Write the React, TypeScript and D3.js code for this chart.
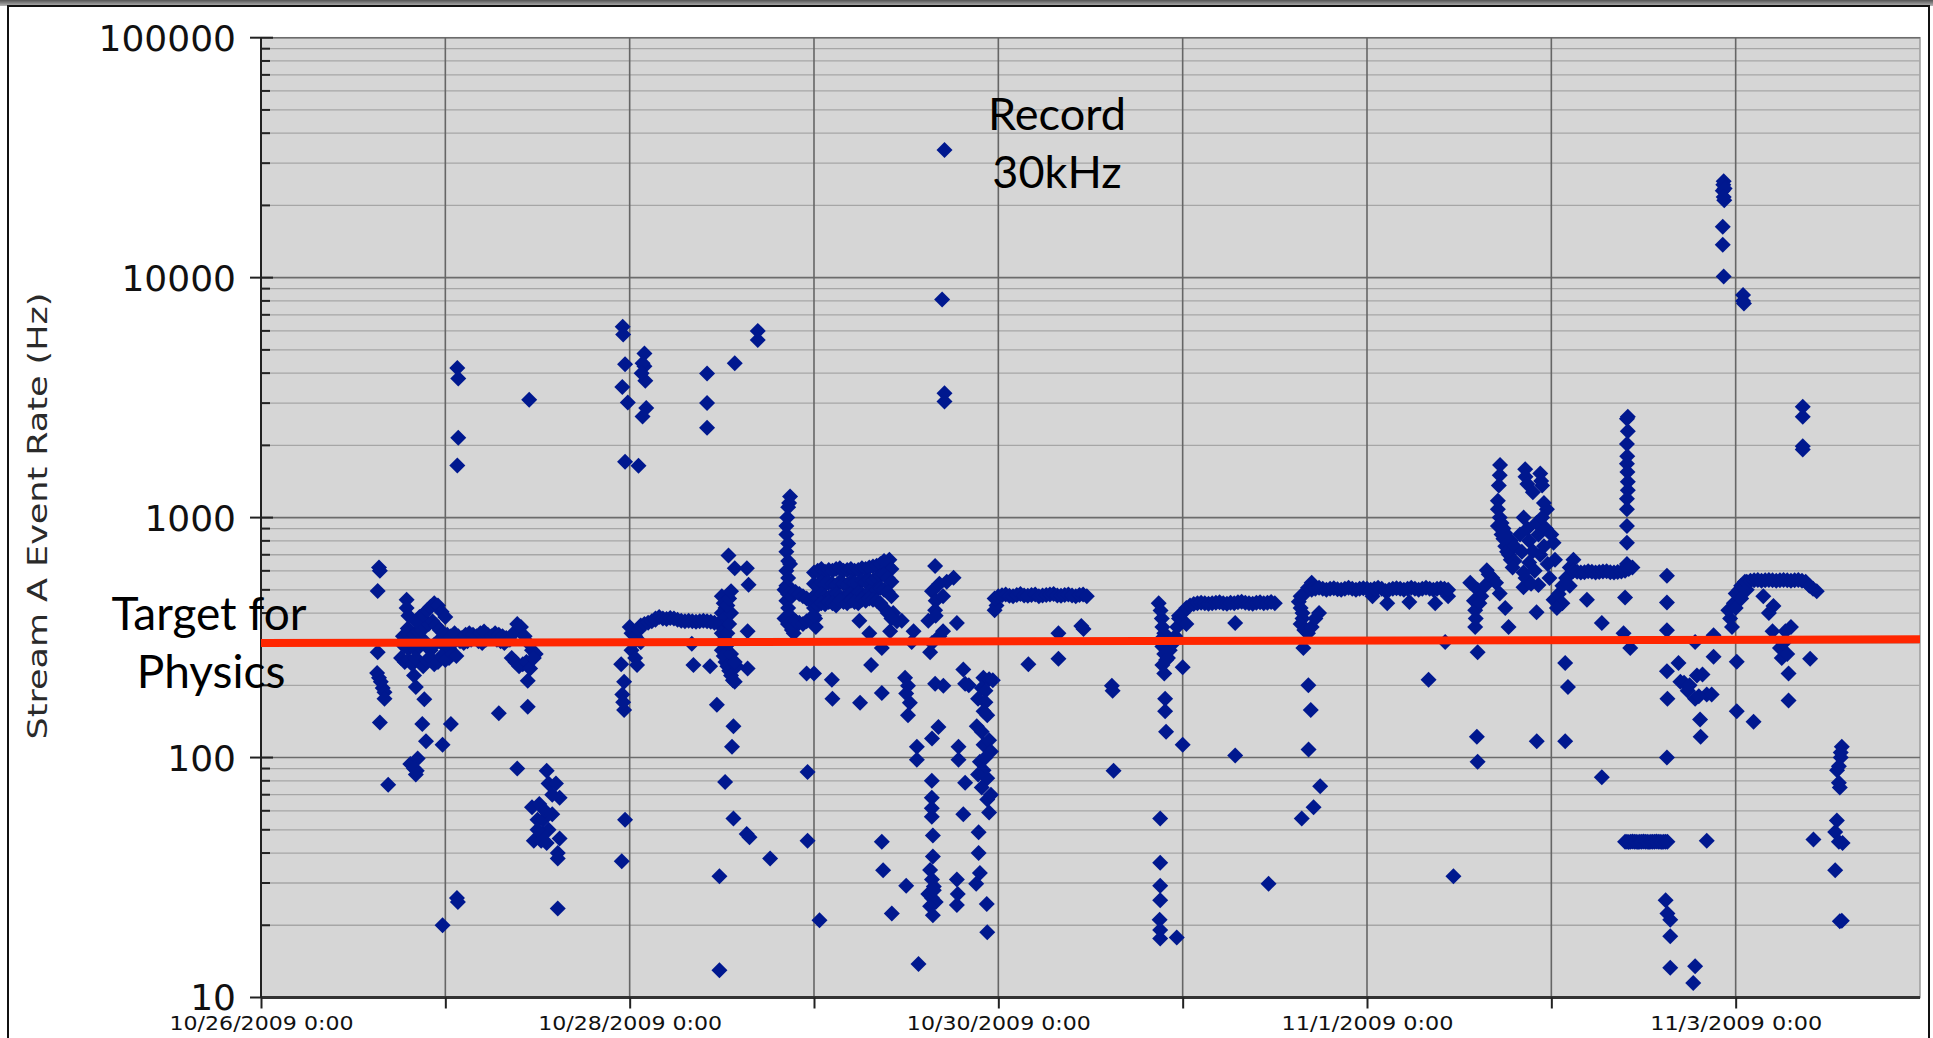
import React, { useEffect, useRef } from 'react';
import * as d3 from 'd3';

// time is in days after 10/26/2009 0:00, rates in Hz
const startDate = Date.UTC(2009, 9, 26);
const endDate = Date.UTC(2009, 10, 4);
const dayLabels = ['10/26/2009 0:00', '', '10/28/2009 0:00', '', '10/30/2009 0:00', '', '11/1/2009 0:00', '', '11/3/2009 0:00'];
const yLabels = [10, 100, 1000, 10000, 100000];
const targetRate = [300, 311]; // red line, left end / right end

const scatterOct26 = [
  [0.64, 620], [0.645, 600], [0.633, 495], [0.633, 275], [0.63, 225], [0.64, 215], [0.65, 207], [0.66, 195],
  [0.67, 187], [0.67, 176], [0.645, 140], [0.69, 77], [0.79, 455], [0.79, 420], [0.796, 345], [0.8, 390],
  [0.83, 220], [0.84, 197], [0.886, 175], [0.875, 138], [0.895, 117], [0.81, 94], [0.84, 85], [0.85, 99],
  [0.83, 90], [0.845, 88], [0.985, 113], [1.03, 138], [1.063, 26], [1.068, 25], [0.985, 20],
];
const scatterOct27 = [
  [1.065, 4200], [1.07, 3800], [1.07, 2150], [1.065, 1650], [1.455, 3100],
  [1.447, 209], [1.447, 163], [1.29, 153], [1.39, 90], [1.47, 62], [1.5, 55], [1.48, 45],
  [1.55, 88], [1.56, 78], [1.6, 78], [1.62, 68], [1.51, 64], [1.53, 55], [1.56, 50], [1.52, 45],
  [1.55, 44], [1.62, 46], [1.61, 40], [1.61, 38], [1.61, 23.5], [1.54, 60], [1.58, 58], [1.53, 48],
  [1.58, 70], [1.5, 50],
];
const scatterOct28 = [
  [1.962, 6250], [1.965, 5800], [1.975, 4360], [1.96, 3500], [1.99, 3020], [2.08, 4830], [2.08, 4270],
  [2.085, 3720], [2.09, 2860], [2.07, 2640], [1.975, 1710], [2.048, 1645], [2.07, 4400], [2.065, 4000],
  [1.975, 55], [1.957, 37], [1.97, 158], [1.96, 183], [1.97, 207], [1.954, 245], [1.965, 170],
  [2.0, 350], [2.01, 330], [2.02, 300], [2.01, 280], [2.03, 260], [2.04, 243], [2.03, 320], [2.06, 302],
  [2.05, 340], [2.337, 298], [2.346, 243], [2.436, 240],
  [2.5, 470], [2.51, 440], [2.52, 420], [2.5, 400], [2.51, 380], [2.5, 350], [2.5, 330], [2.51, 310],
  [2.52, 290], [2.5, 280], [2.51, 265], [2.52, 250], [2.53, 240], [2.54, 230], [2.55, 220], [2.56, 210],
  [2.57, 207], [2.55, 270], [2.54, 300], [2.53, 330], [2.54, 360], [2.55, 400], [2.53, 430], [2.54, 460],
  [2.55, 493], [2.536, 695], [2.57, 615], [2.636, 615], [2.645, 525], [2.64, 336], [2.64, 235],
  [2.58, 240], [2.57, 250],
  [2.473, 166], [2.563, 135], [2.555, 111], [2.518, 79], [2.563, 55.7], [2.635, 48], [2.65, 46.5],
  [2.487, 32], [2.487, 13], [2.762, 38],
  [2.42, 3990], [2.42, 3000], [2.42, 2370], [2.57, 4400], [2.695, 6000], [2.695, 5500],
];
const scatterOct29 = [
  [2.87, 1225], [2.865, 1150], [2.86, 1105], [2.855, 1000], [2.85, 923], [2.85, 850], [2.86, 780],
  [2.85, 720], [2.86, 660], [2.85, 600], [2.86, 560], [2.85, 520], [2.86, 480], [2.85, 450], [2.86, 420],
  [2.87, 390], [2.86, 360], [2.88, 340], [2.89, 330], [2.88, 500], [2.87, 640], [2.96, 224], [2.965, 87],
  [2.965, 45], [3.03, 21],
  [3.006, 380], [3.01, 350], [3.0, 224], [3.097, 211], [3.1, 176], [3.25, 169], [3.368, 186], [3.246, 372],
  [3.3, 330], [3.368, 286], [3.31, 243], [3.413, 336], [3.476, 372], [3.409, 668], [3.43, 400], [3.45, 370],
  [3.657, 628], [3.757, 562], [3.64, 493], [3.66, 450], [3.657, 411], [3.62, 372], [3.775, 364], [3.7, 336],
  [3.54, 336], [3.53, 303], [3.63, 275], [3.64, 300], [3.68, 320], [3.66, 390], [3.7, 470], [3.68, 530],
  [3.72, 540], [3.494, 215], [3.51, 199], [3.52, 169], [3.51, 150], [3.5, 185], [3.657, 203], [3.702, 199],
  [3.81, 233], [3.82, 203], [3.675, 134], [3.64, 120], [3.558, 111], [3.558, 98], [3.784, 111], [3.784, 98],
  [3.82, 78.5], [3.81, 58], [3.639, 80], [3.639, 68], [3.639, 61.5], [3.639, 56.7], [3.645, 47.3],
  [3.645, 38.7], [3.63, 34], [3.64, 31], [3.65, 29], [3.62, 27], [3.64, 26], [3.66, 25], [3.63, 24],
  [3.65, 28], [3.645, 22], [3.775, 31], [3.775, 24.3], [3.78, 27], [3.893, 48.8], [3.893, 40], [3.9, 33],
  [3.88, 29.8], [3.937, 24.5], [3.94, 18.7], [3.368, 44.6], [3.375, 33.9], [3.5, 29.2], [3.422, 22.4],
  [3.567, 13.8], [3.708, 34000], [3.695, 8100], [3.708, 3300], [3.708, 3050],
  [3.919, 215], [3.95, 212], [3.97, 210], [3.91, 195], [3.93, 190], [3.89, 176], [3.93, 170], [3.92, 156],
  [3.94, 150], [3.883, 135], [3.91, 128], [3.92, 113], [3.95, 118], [3.96, 106], [3.9, 96], [3.93, 100],
  [3.92, 88.6], [3.89, 85], [3.94, 82], [3.91, 75], [3.94, 66.8], [3.95, 59], [3.96, 70], [3.84, 200],
];
const scatterOct30 = [
  [3.98, 411], [3.99, 430], [4.163, 245], [4.326, 330], [4.326, 258], [4.462, 343], [4.45, 353],
  [4.616, 199], [4.62, 190], [4.625, 88],
  [4.87, 440], [4.88, 410], [4.887, 380], [4.89, 350], [4.9, 330], [4.88, 310], [4.89, 290], [4.9, 270],
  [4.91, 255], [4.89, 243], [4.9, 224], [4.92, 260], [4.93, 280], [4.95, 300], [4.96, 320], [4.97, 350],
  [4.98, 380], [4.905, 176], [4.905, 156], [4.91, 128], [5.0, 113], [5.0, 238], [4.878, 55.7],
  [4.878, 36.4], [4.878, 29.2], [4.878, 25.4], [4.875, 21.1], [4.878, 19.1], [4.878, 17.6], [4.968, 17.8],
  [4.98, 390], [5.0, 370], [5.02, 360], [5.285, 364], [5.285, 102], [5.466, 29.8],
];
const scatterOct31 = [
  [5.63, 446], [5.64, 420], [5.65, 400], [5.65, 380], [5.64, 360], [5.66, 340], [5.68, 330], [5.7, 350],
  [5.72, 380], [5.74, 400], [5.66, 480], [5.68, 510], [5.7, 535], [5.64, 470], [5.655, 286], [5.682, 200],
  [5.695, 158], [5.683, 108], [5.746, 76], [5.71, 62], [5.646, 55.7],
  [6.11, 440], [6.23, 445], [6.37, 440], [6.03, 470], [6.44, 470], [6.424, 303], [6.334, 211], [6.469, 32],
];
const scatterNov1 = [
  [6.56, 535], [6.65, 603], [6.68, 560], [6.7, 535], [6.72, 483], [6.6, 500], [6.62, 470], [6.58, 450],
  [6.587, 411], [6.587, 350], [6.768, 350], [6.59, 380], [6.6, 275], [6.596, 122], [6.6, 96], [6.61, 440],
  [6.64, 520], [6.66, 580], [6.75, 420],
  [6.722, 1655], [6.72, 1500], [6.715, 1360], [6.71, 1175], [6.71, 1084], [6.72, 1000], [6.71, 922],
  [6.73, 850], [6.74, 817], [6.75, 760], [6.76, 720], [6.78, 668], [6.77, 700], [6.73, 950], [6.74, 900],
  [6.75, 860], [6.78, 800], [6.8, 760], [6.8, 660], [6.79, 620],
  [6.858, 1592], [6.86, 1480], [6.87, 1380], [6.94, 1528], [6.945, 1420], [6.95, 1360], [6.9, 1274],
  [6.976, 1084], [6.96, 1150], [6.85, 1000], [6.87, 900], [6.88, 800], [6.93, 851], [6.92, 950],
  [6.95, 1000], [6.97, 900], [7.0, 850], [7.012, 785], [7.02, 668], [6.849, 591], [6.849, 513], [6.93, 524],
  [6.92, 403], [6.9, 724], [6.88, 650], [6.91, 600], [6.94, 700], [6.96, 760], [6.98, 640], [6.99, 560],
  [6.86, 560], [6.89, 530], [6.921, 117], [6.83, 850], [6.84, 720],
];
const scatterNov2 = [
  [7.075, 248], [7.09, 197], [7.075, 117],
  [7.012, 455], [7.04, 480], [7.06, 520], [7.08, 560], [7.1, 620], [7.12, 668], [7.12, 600], [7.1, 520],
  [7.06, 440], [7.03, 420], [7.193, 455], [7.274, 364], [7.274, 82.8], [7.392, 330], [7.428, 286], [7.4, 464],
  [7.415, 2630], [7.41, 2583], [7.415, 2290], [7.41, 2028], [7.412, 1800], [7.41, 1678], [7.413, 1550],
  [7.415, 1409], [7.415, 1300], [7.41, 1199], [7.41, 1084], [7.41, 922], [7.41, 785], [7.41, 641],
  [7.627, 573], [7.627, 443], [7.627, 339], [7.627, 100], [7.627, 229], [7.63, 176], [7.69, 248], [7.7, 207],
  [7.79, 220], [7.82, 222], [7.78, 176], [7.843, 183], [7.87, 183], [7.807, 144], [7.81, 122], [7.78, 303],
  [7.88, 323], [7.88, 263], [7.72, 205], [7.75, 200], [7.8, 180], [7.74, 190], [7.843, 45],
  [7.62, 25.4], [7.63, 22.4], [7.645, 21.1], [7.645, 18], [7.645, 13.3], [7.78, 13.5], [7.77, 11.5],
];
const scatterNov3 = [
  [7.935, 25200], [7.933, 24400], [7.94, 23500], [7.93, 23000], [7.935, 21700], [7.938, 21000],
  [7.93, 16300], [7.93, 13700], [7.935, 10100], [8.04, 8470], [8.04, 8000], [8.045, 7800],
  [8.006, 251], [8.006, 156], [8.097, 141],
  [7.97, 380], [7.96, 411], [7.99, 440], [8.0, 483], [8.02, 500], [8.03, 520], [8.05, 540], [7.98, 350],
  [8.0, 420], [8.03, 460], [8.06, 500],
  [8.44, 493], [8.42, 505], [8.205, 428], [8.18, 400], [8.15, 470], [8.2, 336], [8.24, 286], [8.287, 224],
  [8.287, 173], [8.27, 336], [8.3, 350], [8.404, 258], [8.26, 300], [8.25, 260], [8.28, 270],
  [8.364, 2900], [8.364, 2630], [8.364, 1985], [8.364, 1920],
  [8.576, 111], [8.57, 100], [8.55, 88.6], [8.56, 78.5], [8.565, 75], [8.549, 54.6], [8.54, 49],
  [8.56, 44.6], [8.58, 44], [8.422, 45.5], [8.54, 33.9], [8.576, 20.9], [8.565, 20.8], [8.56, 92], [8.57, 105],
];

// steady running periods: first sample day, sample step (days), rates
const band1Core = { t0: 0.76, dt: 0.02, hz: [300, 290, 285, 295, 280, 300, 310, 290, 280, 295, 305, 300, 290, 285, 300, 310, 305, 300, 305, 310, 315, 305, 300, 310, 315, 320, 310, 305, 300, 310] };
const band1Mid = { t0: 0.77, dt: 0.02, hz: [320, 330, 310, 325, 335, 340, 350, 360, 370, 355, 340, 330, 325, 320, 330, 320, 315, 325, 330, 325, 320, 330, 335, 325, 320, 330, 325, 320, 315] };
const band1Upper = { t0: 0.84, dt: 0.02, hz: [370, 385, 395, 410, 425, 440, 430, 405, 385] };
const band1Lower = { t0: 0.76, dt: 0.02, hz: [260, 250, 255, 245, 260, 250, 240, 255, 260, 245, 250, 265, 255, 260, 270, 265] };
const band1b = { t0: 1.35, dt: 0.02, hz: [310, 330, 360, 350, 320, 300, 280, 270] };
const band1bLow = { t0: 1.36, dt: 0.02, hz: [260, 250, 240, 245, 250, 235, 260] };
const band2a = { t0: 2.06, dt: 0.02, hz: [355, 360, 365, 370, 375] };
const band2b = { t0: 2.14, dt: 0.02, hz: [380, 385, 380, 378, 382, 380, 375, 372, 370, 372, 370, 368, 370, 372, 370, 368, 365] };
const spike29Top = { t0: 2.84, dt: 0.02, hz: [500, 480, 470, 490, 480, 470, 460, 450, 440] };
const spike29Low = { t0: 2.84, dt: 0.02, hz: [380, 360, 350, 370, 365, 360, 370, 380, 390] };
const band3A = { t0: 3.0, dt: 0.02, hz: [590, 600, 610, 595, 605, 600, 610, 615, 600, 605, 610, 600, 605, 615, 610, 620, 625, 630, 640, 660, 630, 610] };
const band3B = { t0: 3.0, dt: 0.02, hz: [530, 520, 540, 525, 535, 530, 520, 540, 530, 525, 540, 535, 530, 545, 540, 550, 545, 560, 570, 580, 560, 540] };
const band3C = { t0: 3.0, dt: 0.02, hz: [470, 460, 480, 470, 465, 475, 480, 470, 460, 475, 480, 470, 485, 480, 475, 490, 480, 500, 510, 500, 490, 470] };
const band3D = { t0: 3.0, dt: 0.02, hz: [420, 430, 440, 435, 445, 440, 430, 450, 445, 440, 450, 445, 440, 455, 450, 460, 455, 450, 440, 420, 400, 380] };
const band4 = { t0: 3.98, dt: 0.02, hz: [460, 470, 475, 478, 472, 470, 476, 480, 474, 472, 476, 478, 470, 474, 476, 478, 480, 474, 472, 476, 478, 474, 470, 476, 478, 470] };
const band5 = { t0: 5.0, dt: 0.02, hz: [400, 420, 430, 436, 440, 442, 440, 438, 440, 442, 444, 440, 438, 442, 440, 444, 446, 442, 440, 438, 442, 444, 440, 442, 445, 440] };
const band6 = { t0: 5.7, dt: 0.02, hz: [500, 505, 510, 505, 500, 505, 508, 503, 500, 505, 510, 505, 500, 505, 508, 505, 500, 505, 510, 505, 495, 500, 505, 508, 505, 500, 505, 510, 505, 500, 505, 510, 505, 500, 505, 508, 505, 500] };
const band7 = { t0: 7.12, dt: 0.02, hz: [600, 595, 590, 592, 598, 595, 590, 594, 596, 598, 592, 590, 594, 596, 600, 610, 620] };
const flat44 = { t0: 7.4, dt: 0.01, hz: [44.6, 44.6, 44.5, 44.6, 44.7, 44.6, 44.6, 44.5, 44.6, 44.6, 44.7, 44.6, 44.6, 44.5, 44.6, 44.6, 44.6, 44.7, 44.6, 44.6, 44.5, 44.6, 44.6, 44.6] };
const band8 = { t0: 8.06, dt: 0.02, hz: [540, 545, 548, 550, 546, 548, 550, 548, 546, 548, 550, 548, 546, 548, 550, 545, 540, 520] };

const W = 1933;
const H = 1038;
const margin = { left: 261, right: 1920, top: 37.7, bottom: 997.5 };

export default function App() {
  const ref = useRef<SVGSVGElement>(null);

  useEffect(() => {
    const svg = d3.select(ref.current);
    svg.selectAll('*').remove();

    const x = d3.scaleUtc().domain([new Date(startDate), new Date(endDate)]).range([margin.left, margin.right]);
    const y = d3.scaleLog().domain([10, 100000]).range([margin.bottom, margin.top]);
    const toDate = (t: number) => new Date(startDate + t * 86400000);

    const runs = [band1Core, band1Mid, band1Upper, band1Lower, band1b, band1bLow, band2a, band2b, spike29Top, spike29Low,
      band3A, band3B, band3C, band3D, band4, band5, band6, band7, flat44, band8];
    const points = [
      ...scatterOct26, ...scatterOct27, ...scatterOct28, ...scatterOct29, ...scatterOct30,
      ...scatterOct31, ...scatterNov1, ...scatterNov2, ...scatterNov3,
      ...runs.flatMap((r) => r.hz.map((v, i) => [r.t0 + i * r.dt, v])),
    ];

    // page frame
    const grad = svg.append('defs').append('linearGradient').attr('id', 'topbar')
      .attr('x1', 0).attr('y1', 0).attr('x2', 0).attr('y2', 1);
    grad.append('stop').attr('offset', '0%').attr('stop-color', '#555');
    grad.append('stop').attr('offset', '100%').attr('stop-color', '#b5b5b5');
    svg.append('rect').attr('width', W).attr('height', H).attr('fill', '#fff');
    svg.append('rect').attr('width', W).attr('height', 6).attr('fill', 'url(#topbar)');
    svg.append('rect').attr('x', 8).attr('y', 6).attr('width', 1921).attr('height', H)
      .attr('fill', 'none').attr('stroke', '#111').attr('stroke-width', 2);

    // plot area
    svg.append('rect')
      .attr('x', margin.left).attr('y', margin.top)
      .attr('width', margin.right - margin.left).attr('height', margin.bottom - margin.top)
      .attr('fill', '#d6d6d6').attr('stroke', '#9c9c9c').attr('stroke-width', 1.5);

    const isDecade = (v: number) => Math.abs(Math.log10(v) - Math.round(Math.log10(v))) < 1e-9;
    const yTicks = y.ticks();

    svg.append('g').selectAll('line').data(yTicks).join('line')
      .attr('x1', margin.left).attr('x2', margin.right)
      .attr('y1', (d) => y(d)).attr('y2', (d) => y(d))
      .attr('stroke', (d) => (isDecade(d) ? '#6c6c6c' : '#a6a6a6'))
      .attr('stroke-width', (d) => (isDecade(d) ? 1.6 : 1.3));

    const days = d3.utcDay.range(new Date(startDate), new Date(endDate));
    svg.append('g').selectAll('line').data(days.slice(1)).join('line')
      .attr('x1', (d) => x(d)).attr('x2', (d) => x(d))
      .attr('y1', margin.top).attr('y2', margin.bottom)
      .attr('stroke', '#666').attr('stroke-width', 1.6);

    // y axis ticks
    svg.append('g').selectAll('line').data(yTicks).join('line')
      .attr('x1', (d) => (isDecade(d) ? margin.left - 11 : margin.left))
      .attr('x2', (d) => (isDecade(d) ? margin.left + 12 : margin.left + 9))
      .attr('y1', (d) => y(d)).attr('y2', (d) => y(d))
      .attr('stroke', '#222').attr('stroke-width', 2);

    svg.append('g').selectAll('text').data(yLabels).join('text')
      .attr('x', 236).attr('y', (d) => y(d)).attr('dy', '0.36em')
      .attr('text-anchor', 'end')
      .style('font-family', '"DejaVu Sans", sans-serif').style('font-size', '36px').style('fill', '#111')
      .text((d) => String(d));

    // x axis
    svg.append('g')
      .attr('transform', `translate(0,${margin.bottom})`)
      .call(d3.axisBottom(x).tickValues(days).tickSize(11).tickFormat((d, i) => dayLabels[i]))
      .call((g) => g.select('.domain').attr('stroke', '#333').attr('stroke-width', 3)
        .attr('d', `M${margin.left},0H${margin.right}`))
      .call((g) => g.selectAll('.tick line').attr('stroke', '#222').attr('stroke-width', 2))
      .call((g) => g.selectAll('.tick text').attr('y', 18).attr('dy', '0.71em')
        .attr('textLength', (d, i) => (dayLabels[i] ? (dayLabels[i].length === 15 ? 184 : 172) : null))
        .attr('lengthAdjust', 'spacingAndGlyphs')
        .style('font-family', '"DejaVu Sans", sans-serif').style('font-size', '20px').style('fill', '#111'));

    svg.append('line')
      .attr('x1', margin.left).attr('x2', margin.left)
      .attr('y1', margin.top).attr('y2', margin.bottom)
      .attr('stroke', '#222').attr('stroke-width', 2);

    // y title
    svg.append('text')
      .attr('transform', 'translate(47,516) rotate(-90)')
      .attr('text-anchor', 'middle')
      .attr('textLength', 447).attr('lengthAdjust', 'spacingAndGlyphs')
      .style('font-family', '"DejaVu Sans", sans-serif').style('font-size', '26px').style('fill', '#2a2a2a')
      .text('Stream A Event Rate (Hz)');

    // data
    svg.append('g').attr('fill', '#00188f')
      .selectAll('path').data(points).join('path')
      .attr('transform', (d) => `translate(${x(toDate(d[0]))},${y(d[1])})`)
      .attr('d', 'M0,-8L8,0L0,8L-8,0Z');

    // target line
    svg.append('line')
      .attr('x1', margin.left).attr('x2', margin.right)
      .attr('y1', y(targetRate[0])).attr('y2', y(targetRate[1]))
      .attr('stroke', '#ff2600').attr('stroke-width', 8);

    // annotations
    const note = svg.append('g')
      .style('font-family', 'Lato, "Open Sans", sans-serif').style('fill', '#000')
      .attr('text-anchor', 'middle');
    note.append('text').attr('x', 1057).attr('y', 130).style('font-size', '45px').text('Record');
    note.append('text').attr('x', 1057).attr('y', 188).style('font-size', '45px').text('30kHz');
    note.append('text').attr('x', 209).attr('y', 630).style('font-size', '46px').text('Target for');
    note.append('text').attr('x', 211).attr('y', 688).style('font-size', '46px').text('Physics');
  }, []);

  return (
    <svg ref={ref} width={W} height={H} style={{ position: 'absolute', left: 0, top: 0, display: 'block' }} />
  );
}
